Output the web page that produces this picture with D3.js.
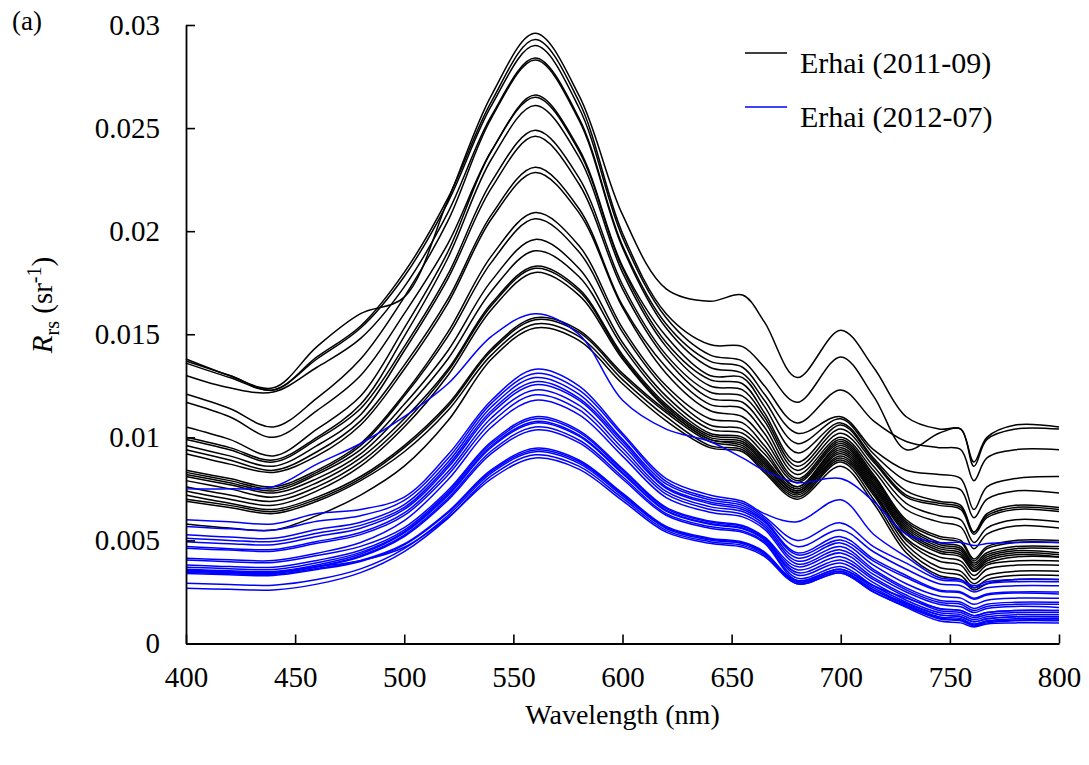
<!DOCTYPE html>
<html>
<head>
<meta charset="utf-8">
<script src="https://cdn.jsdelivr.net/npm/d3@7"></script>
<style>
  body { margin: 0; background: #fff; }
  svg, svg text { font-family: "Liberation Serif", "DejaVu Serif", "Times New Roman", Times, serif; fill: #000; }
  .axis text { font-size: 29px; }
</style>
</head>
<body>
<div id="chart"></div>
<script>
const serif = "'Liberation Serif', 'DejaVu Serif', 'Times New Roman', Times, serif";

const wavelengths = [400, 420, 440, 460, 480, 500, 520, 540, 560, 580, 600, 620, 640, 655, 665, 680, 700, 715, 730, 745, 755, 761, 767, 780, 800];

// Rrs values in units of 1e-3 sr^-1
const erhai2011 = [
  [13.8, 13.0, 12.4, 14.4, 16.0, 16.8, 21.5, 26.6, 29.6, 26.6, 20.8, 17.2, 16.6, 16.9, 15.6, 12.9, 15.2, 13.4, 11.0, 10.4, 10.4, 8.8, 10.0, 10.6, 10.5],
  [13.7, 13.0, 12.3, 13.9, 15.4, 18.0, 21.6, 26.3, 29.3, 26.3, 19.9, 16.0, 14.5, 14.4, 13.4, 11.7, 13.9, 12.0, 9.4, 10.2, 10.4, 8.6, 9.9, 10.4, 10.4],
  [13.6, 12.9, 12.3, 13.8, 15.3, 17.8, 21.4, 26.1, 29.0, 26.0, 19.7, 15.8, 14.0, 13.7, 12.5, 10.7, 12.3, 10.8, 9.8, 9.5, 9.4, 7.9, 9.0, 9.4, 9.4],
  [13.0, 12.4, 12.2, 13.4, 14.8, 17.3, 20.9, 25.6, 28.4, 25.5, 19.3, 15.5, 13.7, 13.4, 12.1, 10.2, 11.0, 9.4, 8.4, 8.2, 8.0, 6.5, 7.6, 8.0, 8.1],
  [12.1, 11.4, 10.5, 11.9, 13.8, 16.8, 20.5, 25.5, 28.3, 25.4, 19.2, 15.3, 13.4, 13.1, 11.8, 9.7, 10.9, 9.2, 7.9, 7.6, 7.45, 6.1, 7.0, 7.4, 7.3],
  [11.7, 11.0, 10.0, 11.3, 13.0, 16.0, 19.4, 23.9, 26.6, 24.0, 18.3, 14.9, 13.0, 12.9, 11.5, 9.25, 10.7, 9.0, 7.4, 6.9, 6.7, 5.4, 6.3, 6.7, 6.6],
  [10.5, 9.9, 9.1, 10.4, 12.0, 15.3, 19.0, 23.9, 26.5, 23.9, 18.2, 14.6, 12.8, 12.6, 11.2, 8.8, 10.6, 8.9, 7.2, 6.8, 6.6, 5.4, 6.2, 6.6, 6.5],
  [10.0, 9.5, 8.9, 10.0, 11.6, 14.9, 18.7, 23.5, 26.1, 23.6, 18.0, 14.4, 12.5, 12.3, 11.0, 8.6, 10.4, 8.8, 7.1, 6.7, 6.5, 5.3, 6.1, 6.5, 6.4],
  [9.9, 9.4, 8.8, 9.9, 11.4, 14.4, 17.9, 22.4, 24.9, 22.6, 17.4, 14.0, 12.2, 12.0, 10.8, 8.4, 10.2, 8.6, 6.8, 6.2, 6.0, 4.9, 5.6, 6.0, 5.9],
  [9.6, 9.1, 8.6, 9.6, 11.1, 14.2, 17.7, 22.1, 24.6, 22.3, 17.2, 13.8, 11.9, 11.7, 10.5, 8.2, 10.0, 8.4, 6.5, 5.9, 5.65, 4.6, 5.3, 5.7, 5.6],
  [9.4, 8.9, 8.4, 9.3, 10.8, 13.5, 16.7, 20.8, 23.1, 21.1, 16.4, 13.4, 11.6, 11.4, 10.2, 8.0, 9.9, 8.2, 6.0, 5.2, 5.0, 4.1, 4.7, 5.0, 5.0],
  [9.2, 8.7, 8.3, 9.1, 10.6, 13.3, 16.5, 20.6, 22.85, 20.9, 16.3, 13.1, 11.3, 11.0, 9.9, 7.9, 9.8, 8.1, 5.9, 5.1, 4.9, 4.0, 4.6, 4.9, 4.9],
  [8.4, 8.0, 7.6, 8.4, 9.7, 12.1, 15.1, 18.8, 20.9, 19.3, 15.3, 12.5, 10.9, 10.7, 9.6, 7.8, 9.7, 8.0, 5.8, 4.9, 4.7, 3.9, 4.4, 4.7, 4.7],
  [8.3, 7.9, 7.5, 8.3, 9.6, 12.0, 14.9, 18.5, 20.6, 19.0, 15.1, 12.3, 10.6, 10.4, 9.4, 7.6, 9.6, 7.9, 5.7, 4.8, 4.6, 3.8, 4.3, 4.6, 4.6],
  [8.2, 7.8, 7.4, 8.2, 9.4, 11.6, 14.2, 17.6, 19.6, 18.2, 14.6, 12.0, 10.4, 10.2, 9.2, 7.6, 9.5, 7.8, 5.6, 4.7, 4.5, 3.7, 4.2, 4.5, 4.4],
  [8.1, 7.7, 7.3, 8.0, 9.2, 11.3, 13.8, 17.1, 19.05, 17.8, 14.4, 11.8, 10.2, 10.0, 9.0, 7.5, 9.4, 7.7, 5.5, 4.6, 4.4, 3.6, 4.1, 4.4, 4.3],
  [7.9, 7.5, 7.1, 7.8, 9.0, 10.9, 13.3, 16.5, 18.3, 17.2, 14.0, 11.6, 10.1, 9.9, 8.9, 7.4, 9.3, 7.6, 5.4, 4.5, 4.3, 3.5, 4.0, 4.3, 4.2],
  [7.6, 7.2, 6.9, 7.6, 8.8, 10.7, 13.2, 16.4, 18.2, 17.1, 13.9, 11.5, 10.0, 9.8, 8.8, 7.4, 9.2, 7.5, 5.3, 4.4, 4.2, 3.5, 3.9, 4.2, 4.2],
  [7.4, 7.0, 6.7, 7.4, 8.6, 10.5, 13.0, 16.2, 18.0, 16.9, 13.8, 11.4, 9.9, 9.7, 8.7, 7.3, 9.1, 7.4, 5.1, 4.2, 4.0, 3.3, 3.8, 4.0, 4.0],
  [7.2, 6.8, 6.5, 7.1, 8.1, 9.6, 11.6, 14.3, 15.8, 15.2, 13.1, 11.3, 9.9, 9.6, 8.6, 7.3, 9.0, 7.3, 5.0, 4.0, 3.8, 3.1, 3.6, 3.8, 3.8],
  [7.0, 6.7, 6.4, 7.0, 8.0, 9.5, 11.5, 14.2, 15.7, 15.1, 13.0, 11.2, 9.8, 9.5, 8.5, 7.2, 8.9, 7.2, 4.8, 3.7, 3.5, 2.9, 3.3, 3.5, 3.5],
  [6.9, 6.6, 6.3, 6.9, 7.9, 9.3, 11.3, 14.0, 15.5, 14.9, 12.8, 11.0, 9.6, 9.4, 8.4, 7.1, 8.8, 7.0, 4.6, 3.5, 3.3, 2.7, 3.1, 3.3, 3.3],
  [5.8, 5.6, 5.5, 6.2, 7.2, 8.6, 10.8, 13.8, 15.3, 14.7, 12.6, 10.8, 9.5, 9.3, 8.3, 7.0, 8.6, 6.8, 4.4, 3.3, 3.1, 2.6, 2.9, 3.1, 3.1]
];

const erhai2012 = [
  [7.5, 7.5, 7.6, 8.7, 9.7, 11.0, 12.6, 14.9, 16.0, 15.0, 11.8, 10.4, 9.8, 9.0, 8.4, 7.8, 8.0, 6.9, 5.3, 4.9, 4.9, 4.75, 4.85, 4.9, 4.9],
  [6.0, 5.9, 5.8, 6.3, 6.5, 7.1, 9.15, 11.8, 13.3, 12.5, 10.2, 8.0, 7.2, 6.9, 6.3, 5.9, 6.97, 5.3, 4.2, 3.2, 3.08, 2.8, 3.0, 3.1, 3.1],
  [5.67, 5.56, 5.5, 5.93, 6.2, 6.94, 8.97, 11.66, 13.1, 12.3, 10.1, 7.86, 7.07, 6.8, 6.16, 5.0, 5.85, 4.7, 3.9, 3.1, 3.0, 2.7, 2.9, 3.0, 3.0],
  [5.27, 5.16, 5.1, 5.53, 5.88, 6.74, 8.79, 11.48, 12.9, 12.1, 9.9, 7.74, 6.97, 6.7, 6.06, 4.7, 5.5, 4.45, 3.6, 2.9, 2.8, 2.5, 2.7, 2.8, 2.8],
  [5.1, 5.0, 4.95, 5.35, 5.73, 6.6, 8.64, 11.3, 12.7, 11.9, 9.8, 7.6, 6.86, 6.6, 5.97, 4.4, 5.18, 4.1, 3.3, 2.6, 2.5, 2.2, 2.4, 2.5, 2.5],
  [4.94, 4.84, 4.79, 5.19, 5.59, 6.5, 8.52, 11.17, 12.55, 11.8, 9.66, 7.53, 6.78, 6.5, 5.9, 4.3, 5.02, 4.0, 3.2, 2.55, 2.45, 2.15, 2.35, 2.45, 2.4],
  [4.7, 4.6, 4.56, 4.95, 5.38, 6.33, 8.33, 10.95, 12.3, 11.56, 9.47, 7.38, 6.64, 6.4, 5.78, 4.15, 4.88, 3.8, 2.9, 2.3, 2.2, 1.9, 2.1, 2.2, 2.2],
  [4.62, 4.53, 4.48, 4.86, 5.28, 6.21, 8.17, 10.73, 12.06, 11.34, 9.29, 7.24, 6.51, 6.27, 5.67, 4.0, 4.7, 3.6, 2.7, 2.1, 2.0, 1.7, 1.9, 2.0, 2.0],
  [4.14, 4.06, 4.02, 4.38, 4.9, 5.96, 7.94, 10.5, 11.8, 11.1, 9.09, 7.08, 6.37, 6.14, 5.55, 3.86, 4.54, 3.5, 2.6, 2.0, 1.9, 1.6, 1.8, 1.9, 1.9],
  [4.05, 3.97, 3.93, 4.27, 4.71, 5.62, 7.43, 9.79, 11.0, 10.34, 8.47, 6.6, 5.94, 5.72, 5.17, 3.73, 4.39, 3.35, 2.5, 1.9, 1.78, 1.5, 1.7, 1.8, 1.75],
  [3.81, 3.73, 3.7, 4.03, 4.52, 5.5, 7.33, 9.7, 10.9, 10.25, 8.39, 6.54, 5.89, 5.67, 5.12, 3.58, 4.21, 3.2, 2.35, 1.7, 1.6, 1.35, 1.5, 1.6, 1.6],
  [3.7, 3.63, 3.59, 3.92, 4.42, 5.42, 7.24, 9.59, 10.77, 10.12, 8.29, 6.46, 5.82, 5.6, 5.06, 3.44, 4.05, 3.1, 2.25, 1.6, 1.5, 1.25, 1.4, 1.5, 1.5],
  [3.6, 3.53, 3.49, 3.81, 4.34, 5.36, 7.17, 9.52, 10.7, 10.06, 8.24, 6.42, 5.78, 5.56, 5.03, 3.32, 3.9, 2.95, 2.1, 1.5, 1.4, 1.15, 1.3, 1.4, 1.4],
  [3.53, 3.46, 3.42, 3.73, 4.26, 5.26, 7.04, 9.35, 10.5, 9.87, 8.09, 6.3, 5.67, 5.46, 4.94, 3.17, 3.73, 2.8, 2.0, 1.4, 1.3, 1.05, 1.2, 1.3, 1.3],
  [3.5, 3.43, 3.4, 3.71, 4.21, 5.19, 6.95, 9.22, 10.36, 9.74, 7.98, 6.22, 5.59, 5.39, 4.87, 3.06, 3.6, 2.7, 1.9, 1.3, 1.2, 0.95, 1.1, 1.2, 1.2],
  [3.45, 3.38, 3.35, 3.64, 4.03, 4.83, 6.39, 8.43, 9.47, 8.9, 7.29, 5.68, 5.11, 4.92, 4.45, 2.98, 3.5, 2.6, 1.85, 1.24, 1.14, 0.9, 1.05, 1.14, 1.14],
  [3.4, 3.33, 3.3, 3.59, 3.98, 4.78, 6.33, 8.36, 9.39, 8.83, 7.23, 5.63, 5.07, 4.88, 4.41, 2.9, 3.42, 2.5, 1.75, 1.1, 1.0, 0.8, 0.95, 1.0, 1.0],
  [2.92, 2.86, 2.83, 3.1, 3.62, 4.6, 6.21, 8.28, 9.3, 8.74, 7.16, 5.58, 5.02, 4.84, 4.37, 3.06, 3.6, 2.8, 2.2, 1.7, 1.6, 1.35, 1.5, 1.6, 1.6],
  [2.68, 2.63, 2.6, 2.88, 3.44, 4.46, 6.07, 8.14, 9.15, 8.6, 7.05, 5.49, 4.94, 4.76, 4.3, 2.98, 3.5, 2.6, 1.95, 1.4, 1.3, 1.05, 1.2, 1.3, 1.3],
  [3.55, 3.48, 3.44, 3.73, 4.02, 4.67, 6.11, 8.0, 9.0, 8.46, 6.93, 5.4, 4.86, 4.68, 4.23, 2.9, 3.42, 2.5, 1.8, 1.2, 1.1, 0.85, 1.0, 1.1, 1.1]
];

const xTicks = [400, 450, 500, 550, 600, 650, 700, 750, 800];
const yTicks = [0, 0.005, 0.01, 0.015, 0.02, 0.025, 0.03];
const legendLabels = ["Erhai (2011-09)", "Erhai (2012-07)"];
const colors = ["#000000", "#0000ff"];

let margin = { top: 25, right: 30, bottom: 121.5, left: 186 },
    width = 1089 - margin.left - margin.right,
    height = 765 - margin.top - margin.bottom;

const svg = d3.select("#chart")
    .append("svg")
    .attr("width", 1089)
    .attr("height", 765)
    .style("font-family", serif);

const g = svg.append("g")
    .attr("transform", `translate(${margin.left},${margin.top})`);

const xScale = d3.scaleLinear().domain([400, 800]).range([0, width]);
const yScale = d3.scaleLinear().domain([0, 0.03]).range([height, 0]);

// spectra
const line = d3.line()
    .x((d, i) => xScale(wavelengths[i]))
    .y(d => yScale(d * 1e-3))
    .curve(d3.curveCatmullRom.alpha(0.5));

[erhai2011, erhai2012].forEach((group, k) => {
    g.append("g")
        .selectAll("path")
        .data(group)
        .enter()
        .append("path")
        .attr("d", line)
        .attr("fill", "none")
        .attr("stroke", colors[k])
        .attr("stroke-width", 1.5)
        .attr("stroke-linejoin", "round");
});

// axes (ticks point inward)
const xAxis = g.append("g")
    .attr("class", "axis")
    .attr("transform", `translate(0,${height})`)
    .call(d3.axisBottom(xScale).tickValues(xTicks).tickSizeInner(-9).tickSizeOuter(0).tickPadding(23).tickFormat(d3.format("d")));

const yAxis = g.append("g")
    .attr("class", "axis")
    .call(d3.axisLeft(yScale).tickValues(yTicks).tickSizeInner(-9).tickSizeOuter(0).tickPadding(26).tickFormat(d => +d.toFixed(3)));

[xAxis, yAxis].forEach(a => {
    a.attr("font-family", null).attr("font-size", null);
    a.select(".domain").attr("stroke", "#000").attr("stroke-width", 1.8);
    a.selectAll(".tick line").attr("stroke", "#000").attr("stroke-width", 1.6);
    a.selectAll("text").attr("fill", "#000").style("font-family", serif).style("font-size", "29px");
});

// legend
const legend = svg.append("g").attr("transform", "translate(745,53)");
legendLabels.forEach((lab, i) => {
    legend.append("line")
        .attr("x1", 0).attr("x2", 42)
        .attr("y1", i * 54).attr("y2", i * 54)
        .attr("stroke", colors[i])
        .attr("stroke-width", 1.5);
    legend.append("text")
        .attr("x", 55)
        .attr("y", i * 54 + 20)
        .style("font-family", serif)
        .style("font-size", "30px")
        .text(lab);
});

// panel label
svg.append("text")
    .attr("x", 12).attr("y", 30)
    .style("font-family", serif)
    .style("font-size", "27px")
    .text("(a)");

// axis titles
svg.append("text")
    .attr("x", margin.left + width / 2)
    .attr("y", 724)
    .attr("text-anchor", "middle")
    .style("font-family", serif)
    .style("font-size", "28px")
    .text("Wavelength (nm)");

const yTitle = svg.append("text")
    .attr("transform", "translate(52,305) rotate(-90)")
    .attr("text-anchor", "middle")
    .style("font-family", serif)
    .style("font-size", "29px");
yTitle.append("tspan").style("font-style", "italic").text("R");
yTitle.append("tspan").attr("dy", 7).style("font-size", "20px").text("rs");
yTitle.append("tspan").attr("dy", -7).text(" (sr");
yTitle.append("tspan").attr("dy", -11).style("font-size", "20px").text("-1");
yTitle.append("tspan").attr("dy", 11).text(")");
</script>
</body>
</html>
